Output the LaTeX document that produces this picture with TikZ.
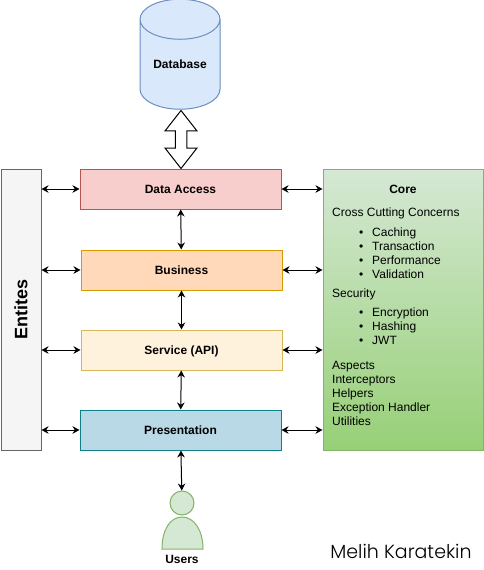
\documentclass[tikz,border=0pt]{standalone}
\usepackage{fontspec}
\setmainfont{Liberation Sans}
\newfontfamily\signfont{Poppins Light}
\usepackage{xcolor}
\usepackage{tikz}
\usetikzlibrary{arrows.meta,shapes.geometric,shapes.arrows}

\definecolor{dbfill}{HTML}{DAE8FC}
\definecolor{dbline}{HTML}{6C8EBF}
\definecolor{dafill}{HTML}{F8CECC}
\definecolor{daline}{HTML}{B85450}
\definecolor{bizfill}{HTML}{FFD9BA}
\definecolor{bizline}{HTML}{D79B00}
\definecolor{apifill}{HTML}{FFF2DC}
\definecolor{apiline}{HTML}{D6B656}
\definecolor{prfill}{HTML}{B9D9E6}
\definecolor{prline}{HTML}{0E8088}
\definecolor{usrfill}{HTML}{D5E8D4}
\definecolor{usrline}{HTML}{82B366}
\definecolor{corebottom}{HTML}{97D077}
\definecolor{entfill}{HTML}{F5F5F5}
\definecolor{entline}{HTML}{666666}

\tikzset{
	layer/.style={draw, line width=1pt, minimum width=201pt, minimum height=40pt, inner sep=0pt, text height=10.6pt, text depth=2pt, font=\fontsize{12}{14}\selectfont\bfseries},
	link/.style={line width=1pt, {Stealth[length=7pt,width=7.5pt]}-{Stealth[length=7pt,width=7.5pt]}},
	plain text/.style={inner sep=0pt, font=\fontsize{12}{14}\selectfont}
}

\newcommand{\corebullet}[1]{\hspace*{27pt}\makebox[13pt][l]{\textbullet}#1}

\begin{document}
\begin{tikzpicture}[x=1pt,y=-1pt]
		\useasboundingbox (0,0) rectangle (484,570);

		\node[draw=dbline, fill=dbfill, line width=1pt, cylinder, shape border rotate=90, aspect=0.75, minimum width=80pt, minimum height=110pt, inner sep=0pt, font=\fontsize{12}{14}\selectfont\bfseries] (database) at (180,64.5) {Database};

		\node[layer, draw=daline, fill=dafill] (dataaccess) at (180.5,189) {Data Access};
		\node[layer, draw=bizline, fill=bizfill] (business) at (181.5,270) {Business};
		\node[layer, draw=apiline, fill=apifill] (service) at (181.5,350) {Service (API)};
		\node[layer, draw=prline, fill=prfill] (presentation) at (180.5,430) {Presentation};

		\node[draw=entline, fill=entfill, line width=1pt, minimum width=40pt, minimum height=281pt, inner sep=0pt] (entites) at (21,309.5) {};
		\node[rotate=90, inner sep=0pt, font=\fontsize{18}{20}\selectfont\bfseries] (entiteslabel) at (entites) {Entites};

		\node[draw=usrline, top color=usrfill, bottom color=corebottom, line width=1pt, minimum width=160pt, minimum height=281pt, inner sep=0pt] (core) at (403,309.5) {};
		\node[plain text, font=\fontsize{12}{14}\selectfont\bfseries] (coretitle) at (403,189.5) {Core};
		\node[plain text, anchor=north west, align=left] (coreconcerns) at (332,207.5) {Cross Cutting Concerns\\[6pt]
			\corebullet{Caching}\\
			\corebullet{Transaction}\\
			\corebullet{Performance}\\
			\corebullet{Validation}\\[5pt]
			Security\\[5pt]
			\corebullet{Encryption}\\
			\corebullet{Hashing}\\
			\corebullet{JWT}\\[11pt]
			Aspects\\
			Interceptors\\
			Helpers\\
			Exception Handler\\
			Utilities};

		\node[draw=usrline, fill=usrfill, line width=1pt, circle, minimum size=24pt, inner sep=0pt] (userhead) at (182,503) {};
		\draw[usrline, fill=usrfill, line width=1pt] (162,549) .. controls (162,530) and (170,517) .. (182,517) .. controls (194,517) and (203,530) .. (203,549) -- cycle;
		\node[inner sep=0pt, font=\fontsize{12}{14}\selectfont\bfseries] (users) at (182,559.5) {Users};

		\node[inner sep=0pt, font=\fontsize{19}{21}\selectfont\signfont] (signature) at (401,551) {Melih Karatekin};

		\node[draw, fill=white, line width=1pt, double arrow, rotate=90, minimum height=58pt, inner xsep=0pt, inner ysep=5.25pt, double arrow head extend=10.25pt, double arrow tip angle=76] (dbarrow) at (181,139.5) {};

		\draw[link] (entites.east |- dataaccess.west) -- (dataaccess.west);
		\draw[link] (entites.east |- business.west) -- (business.west);
		\draw[link] (entites.east |- service.west) -- (service.west);
		\draw[link] (entites.east |- presentation.west) -- (presentation.west);

		\draw[link] (dataaccess.east) -- (core.west |- dataaccess.east);
		\draw[link] (business.east) -- (core.west |- business.east);
		\draw[link] (service.east) -- (core.west |- service.east);
		\draw[link] (presentation.east) -- (core.west |- presentation.east);

		\draw[link] (dataaccess) -- (business);
		\draw[link] (business) -- (service);
		\draw[link] (service) -- (presentation);
		\draw[link] (presentation) -- (userhead);
	\end{tikzpicture}
\end{document}
